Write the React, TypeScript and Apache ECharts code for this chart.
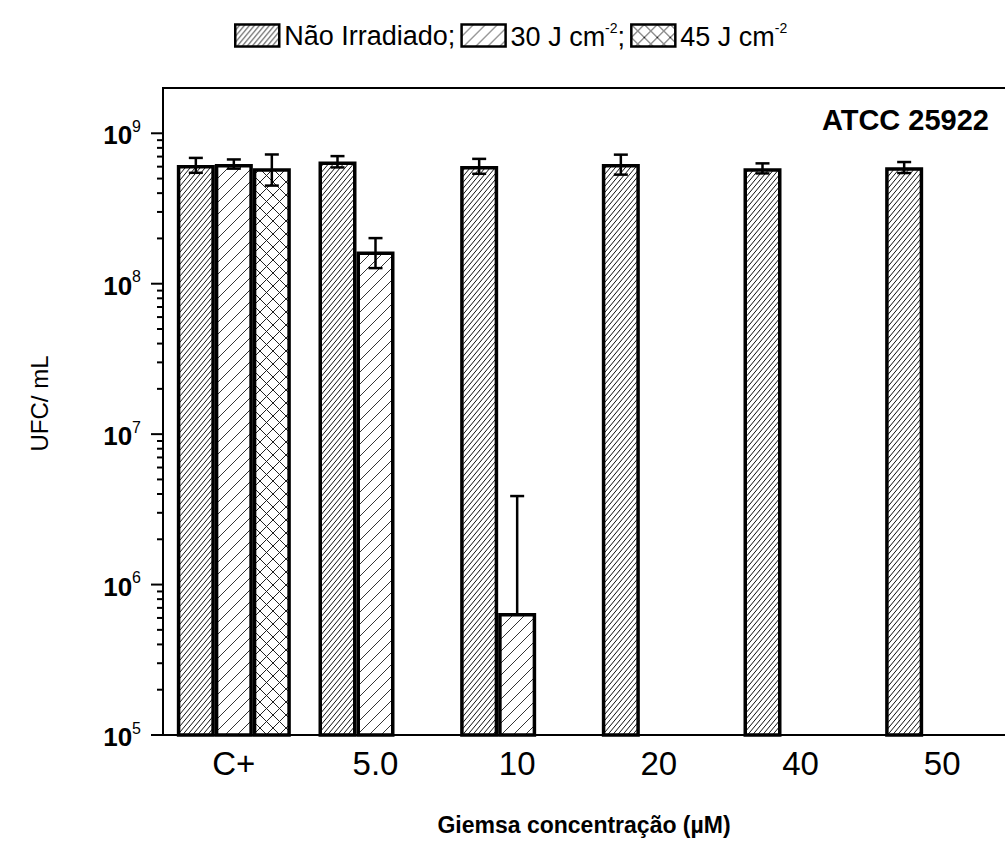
import React, { useEffect, useRef } from "react";
import * as echarts from "echarts";

const categories = ["C+", "5.0", "10", "20", "40", "50"];
const seriesNames = ["Não Irradiado", "30 J cm⁻²", "45 J cm⁻²"];
const naoIrradiado = [6.16e8, 6.49e8, 6.07e8, 6.26e8, 5.86e8, 5.94e8];
const naoIrradiadoSd = [0.7e8, 0.56e8, 0.69e8, 0.95e8, 0.45e8, 0.5e8];
const j30 = [6.26e8, 1.64e8, 6.46e5, null, null, null];
const j30Sd = [0.44e8, 0.37e8, 3.23e6, null, null, null];
const j45 = [5.86e8, null, null, null, null, null];
const j45Sd = [1.37e8, null, null, null, null, null];
const yMajorTicks = [1e5, 1e6, 1e7, 1e8, 1e9];
const yMinorMultipliers = [2, 3, 4, 5, 6, 7, 8, 9];

const FONT = "'Liberation Sans', Arial, sans-serif";
const BAR_W = 38;

function makePattern(w: number, h: number, cross: boolean, color: string) {
  const c = document.createElement("canvas");
  c.width = w;
  c.height = h;
  const ctx = c.getContext("2d")!;
  ctx.fillStyle = "#fff";
  ctx.fillRect(0, 0, w, h);
  ctx.strokeStyle = color;
  ctx.lineWidth = 1;
  const sx = w / h;
  ctx.beginPath();
  ctx.moveTo(0, h);
  ctx.lineTo(w, 0);
  ctx.moveTo(-sx * 2, 2);
  ctx.lineTo(sx * 2, -2);
  ctx.moveTo(w - sx * 2, h + 2);
  ctx.lineTo(w + sx * 2, h - 2);
  if (cross) {
    ctx.moveTo(0, 0);
    ctx.lineTo(w, h);
    ctx.moveTo(-sx * 2, h - 2);
    ctx.lineTo(sx * 2, h + 2);
    ctx.moveTo(w - sx * 2, -2);
    ctx.lineTo(w + sx * 2, 2);
  }
  ctx.stroke();
  return { image: c, repeat: "repeat" } as any;
}

export default function App() {
  const ref = useRef<HTMLDivElement>(null);
  useEffect(() => {
    if (!ref.current) return;
    const chart = echarts.init(ref.current, undefined, { renderer: "svg" });
    const patterns = [
      makePattern(5, 6, false, "#111"),
      makePattern(12, 12, false, "#333"),
      makePattern(13, 13, true, "#222"),
    ];
    const values = [naoIrradiado, j30, j45];
    const sds = [naoIrradiadoSd, j30Sd, j45Sd];

    const tickData: any[] = [];
    yMajorTicks.forEach((t) => tickData.push([0, t, 12]));
    yMajorTicks.slice(0, -1).forEach((t) =>
      yMinorMultipliers.forEach((m) => tickData.push([0, t * m, 6]))
    );

    const barSeries = values.map((vals, s) => ({
      type: "bar",
      name: seriesNames[s],
      data: vals.map((v) => (v == null ? null : v)),
      barWidth: BAR_W,
      barGap: "0%",
      itemStyle: { color: patterns[s], borderColor: "#000", borderWidth: 3.5 },
      z: 2,
    }));

    const errSeries = values.map((vals, s) => ({
      type: "custom",
      name: "err" + s,
      silent: true,
      z: 5,
      data: vals
        .map((v, i) => (v == null ? null : [i, v, sds[s][i] as number]))
        .filter((d) => d != null),
      renderItem: (params: any, api: any) => {
        const i = api.value(0);
        const v = api.value(1);
        const sd = api.value(2);
        const off = (s - 1) * BAR_W;
        const p = api.coord([i, v]);
        const x = p[0] + off;
        const yTop = api.coord([i, v + sd])[1];
        const low = v - sd;
        const hasLow = low > 0;
        const yBot = hasLow ? api.coord([i, low])[1] : p[1];
        const style = { stroke: "#000", lineWidth: 2.5 };
        const children: any[] = [
          { type: "line", shape: { x1: x, y1: yTop, x2: x, y2: yBot }, style },
          { type: "line", shape: { x1: x - 7, y1: yTop, x2: x + 7, y2: yTop }, style },
        ];
        if (hasLow)
          children.push({ type: "line", shape: { x1: x - 7, y1: yBot, x2: x + 7, y2: yBot }, style });
        return { type: "group", children };
      },
    }));

    const tickSeries = {
      type: "custom",
      name: "yticks",
      silent: true,
      z: 6,
      data: tickData,
      renderItem: (params: any, api: any) => {
        const cs = params.coordSys;
        const y = api.coord([0, api.value(1)])[1];
        const len = api.value(2);
        return {
          type: "line",
          shape: { x1: cs.x - len, y1: y, x2: cs.x, y2: y },
          style: { stroke: "#000", lineWidth: 2 },
        };
      },
    };

    chart.setOption({
      animation: false,
      backgroundColor: "#fff",
      textStyle: { fontFamily: FONT },
      title: {
        text: "ATCC 25922",
        right: 11,
        top: 100,
        textStyle: { fontFamily: FONT, fontSize: 29, fontWeight: "bold", color: "#000" },
      },
      legend: {
        data: seriesNames,
        left: 229,
        top: 16,
        icon: "rect",
        itemWidth: 44,
        itemHeight: 22,
        itemGap: 5,
        itemStyle: { borderColor: "#000", borderWidth: 2.5 },
        formatter: (name: string) => {
          if (name === seriesNames[0]) return "{t|Não Irradiado;}";
          if (name === seriesNames[1]) return "{t|30 J cm}{s|-2}{t|;}";
          return "{t|45 J cm}{s|-2}";
        },
        textStyle: {
          rich: {
            t: { fontFamily: FONT, fontSize: 27, color: "#000", verticalAlign: "bottom" },
            s: { fontFamily: FONT, fontSize: 14, color: "#000", verticalAlign: "bottom", padding: [0, 0, 15, 0] },
          },
        },
      },
      grid: {
        left: 163,
        top: 88,
        height: 647,
        width: 850,
        containLabel: false,
        outerBoundsMode: "none",
        show: true,
        borderColor: "#000",
        borderWidth: 2,
        backgroundColor: "transparent",
      },
      xAxis: {
        type: "category",
        data: categories,
        boundaryGap: true,
        axisLine: { lineStyle: { color: "#000", width: 2 } },
        axisTick: { alignWithLabel: true, length: 8, lineStyle: { color: "#000", width: 2 } },
        axisLabel: { fontFamily: FONT, fontSize: 33, color: "#000", margin: 12 },
        name: "Giemsa concentração (µM)",
        nameLocation: "middle",
        nameGap: 78,
        nameTextStyle: { fontFamily: FONT, fontSize: 23, fontWeight: "bold", color: "#000", padding: [0, 8, 0, 0] },
      },
      yAxis: {
        type: "log",
        logBase: 10,
        min: 1e5,
        max: 2e9,
        splitLine: { show: false },
        axisLine: { show: true, lineStyle: { color: "#000", width: 2 } },
        axisTick: { show: false },
        axisLabel: {
          margin: 22,
          formatter: (v: number) => {
            const l = Math.log10(v);
            const e = Math.round(l);
            if (Math.abs(l - e) > 1e-6) return "";
            return `{b|10}{s|${e}}`;
          },
          rich: {
            b: { fontFamily: FONT, fontSize: 26, fontWeight: "bold", color: "#000", verticalAlign: "bottom" },
            s: { fontFamily: FONT, fontSize: 16, color: "#000", verticalAlign: "bottom", padding: [0, 0, 14, 0] },
          },
        },
        name: "UFC/ mL",
        nameLocation: "middle",
        nameGap: 112,
        nameTextStyle: { fontFamily: FONT, fontSize: 24, color: "#000", padding: [0, 0, 0, 16] },
      },
      series: [...barSeries, ...errSeries, tickSeries],
    });
    return () => chart.dispose();
  }, []);
  return (
    <div
      ref={ref}
      style={{ position: "absolute", left: 0, top: 0, width: 1005, height: 860 }}
    />
  );
}
